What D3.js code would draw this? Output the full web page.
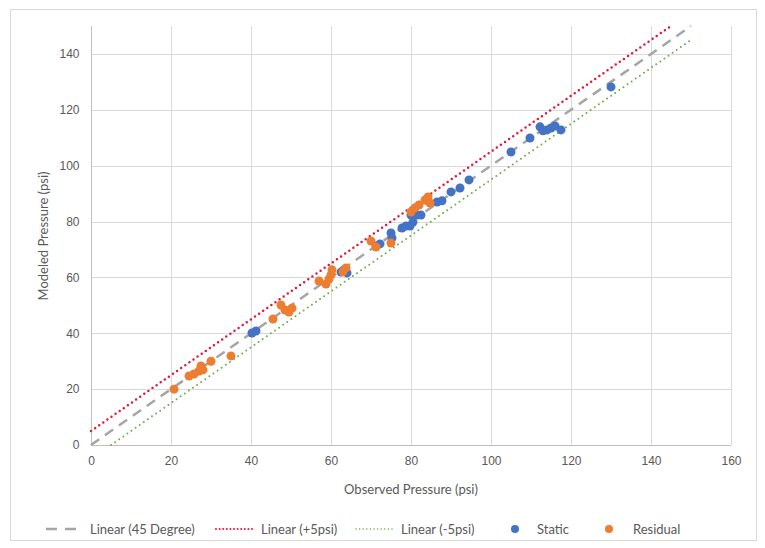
<!DOCTYPE html>
<html><head><meta charset="utf-8">
<script src="https://cdn.jsdelivr.net/npm/d3@7"></script>
<style>body{margin:0;background:#fff;} svg{display:block;font-family:Lato,"Open Sans",sans-serif;}</style>
</head><body>
<svg id="c" width="765" height="548"></svg>
<script>
const xTicks = [0,20,40,60,80,100,120,140,160];
const yTicks = [0,20,40,60,80,100,120,140];
const staticX = [40.25,41.25,62.5,63.25,64,71.25,72.25,75,75.25,77.75,78.75,79.75,80,80.5,81.5,82.5,84.25,86.5,87.75,90,92.25,94.5,105,109.75,112.25,113,114,115,116,117.5,130];
const staticY = [40.1,40.8,61.9,62.7,61.6,71.2,72,75.9,74.1,77.7,78.4,78.4,82.3,79.8,82.3,82.3,87.4,87,87.4,90.6,92,94.9,104.9,109.9,113.9,112.5,112.8,113.5,114.2,112.8,128.2];
const residualX = [20.75,24.5,25.75,27,27.5,28,30,35,45.5,47.5,48.5,49.5,50.25,57,58.75,59.5,60,60.25,63,63.75,70,71.25,75,80,81,82,83.5,84.25,84.75];
const residualY = [20,24.7,25.4,26.5,28.3,26.9,30,31.9,45.1,50.1,48.3,47.6,49,58.7,57.6,59.4,60.9,62.7,62,63.4,73,70.9,72.3,83.4,84.9,85.9,87.7,88.8,86.6];
const lineX = [0,150];
const line45 = [0,150];
const linePlusX = [0,145], linePlus = [5,150];
const lineMinusX = [5,150], lineMinus = [0,145];
const legendLabels = ['Linear (45 Degree)','Linear (+5psi)','Linear (-5psi)','Static','Residual'];

const svg = d3.select('#c');
svg.append('rect').attr('x',10.5).attr('y',9.5).attr('width',746).attr('height',531)
  .attr('fill','#fff').attr('stroke','#d9d9d9');
const x = d3.scaleLinear().domain([0,160]).range([91,731]);
const y = d3.scaleLinear().domain([0,150]).range([445,26]);

// grid
svg.append('g').selectAll('line').data(yTicks.slice(1)).join('line')
  .attr('x1',x(0)).attr('x2',x(160)).attr('y1',d=>Math.round(y(d))+0.5).attr('y2',d=>Math.round(y(d))+0.5)
  .attr('stroke','#d9d9d9');
svg.append('g').selectAll('line').data(xTicks.slice(1)).join('line')
  .attr('y1',y(0)).attr('y2',y(150)).attr('x1',d=>Math.round(x(d))+0.5).attr('x2',d=>Math.round(x(d))+0.5)
  .attr('stroke','#d9d9d9');

// axes
const xa = svg.append('g').attr('transform',`translate(0,${Math.round(y(0))+0.5})`)
  .call(d3.axisBottom(x).tickValues(xTicks).tickSize(0).tickPadding(11));
const ya = svg.append('g').attr('transform',`translate(${Math.round(x(0))+0.5},0)`)
  .call(d3.axisLeft(y).tickValues(yTicks).tickSize(0).tickPadding(12));
[xa,ya].forEach(a=>{
  a.select('.domain').attr('stroke','#bfbfbf');
  a.selectAll('text').attr('fill','#595959').style('font-size','12px');
});
ya.select('.domain').attr('d',`M0,${y(150)}V${y(0)}`);
xa.select('.domain').attr('d',`M${x(0)},0H${x(160)}`);

// lines
const lg = d3.line().x(d=>x(d[0])).y(d=>y(d[1]));
svg.append('path').attr('d',lg(lineX.map((v,i)=>[v,line45[i]])))
  .attr('stroke','#a5a5a5').attr('stroke-width',2.5).attr('stroke-dasharray','10,7').attr('fill','none');
svg.append('path').attr('d',lg(linePlusX.map((v,i)=>[v,linePlus[i]])))
  .attr('stroke','#e3173d').attr('stroke-width',2.5).attr('stroke-dasharray','0,5').attr('stroke-linecap','round').attr('fill','none');
svg.append('path').attr('d',lg(lineMinusX.map((v,i)=>[v,lineMinus[i]])))
  .attr('stroke','#70ad47').attr('stroke-width',2).attr('stroke-dasharray','0,5').attr('stroke-linecap','round').attr('fill','none');

// points
svg.append('g').selectAll('circle').data(staticX.map((v,i)=>[v,staticY[i]])).join('circle')
  .attr('cx',d=>x(d[0])).attr('cy',d=>y(d[1])).attr('r',4.5).attr('fill','#4472c4');
svg.append('g').selectAll('circle').data(residualX.map((v,i)=>[v,residualY[i]])).join('circle')
  .attr('cx',d=>x(d[0])).attr('cy',d=>y(d[1])).attr('r',4.5).attr('fill','#ed7d31');

// titles
svg.append('text').attr('x',411).attr('y',494).attr('text-anchor','middle').attr('fill','#595959')
  .style('font-size','13px').text('Observed Pressure (psi)');
svg.append('text').attr('transform','translate(48,236) rotate(-90)').attr('text-anchor','middle').attr('fill','#595959')
  .style('font-size','13px').text('Modeled Pressure (psi)');

// legend
const ly = 529;
const leg = svg.append('g').style('font-size','13px').attr('fill','#595959');
leg.append('line').attr('x1',46).attr('x2',78).attr('y1',ly).attr('y2',ly).attr('stroke','#a5a5a5').attr('stroke-width',2.5).attr('stroke-dasharray','11,8');
leg.append('text').attr('x',90).attr('y',ly+4.5).text(legendLabels[0]);
leg.append('line').attr('x1',216).attr('x2',252).attr('y1',ly).attr('y2',ly).attr('stroke','#e3173d').attr('stroke-width',2).attr('stroke-dasharray','0,3.6').attr('stroke-linecap','round');
leg.append('text').attr('x',261).attr('y',ly+4.5).text(legendLabels[1]);
leg.append('line').attr('x1',356).attr('x2',392).attr('y1',ly).attr('y2',ly).attr('stroke','#70ad47').attr('stroke-width',1.6).attr('stroke-dasharray','0,3.6').attr('stroke-linecap','round');
leg.append('text').attr('x',401).attr('y',ly+4.5).text(legendLabels[2]);
leg.append('circle').attr('cx',515).attr('cy',ly).attr('r',4).attr('fill','#4472c4');
leg.append('text').attr('x',537).attr('y',ly+4.5).text(legendLabels[3]);
leg.append('circle').attr('cx',609).attr('cy',ly).attr('r',4).attr('fill','#ed7d31');
leg.append('text').attr('x',633).attr('y',ly+4.5).text(legendLabels[4]);
</script>
</body></html>
